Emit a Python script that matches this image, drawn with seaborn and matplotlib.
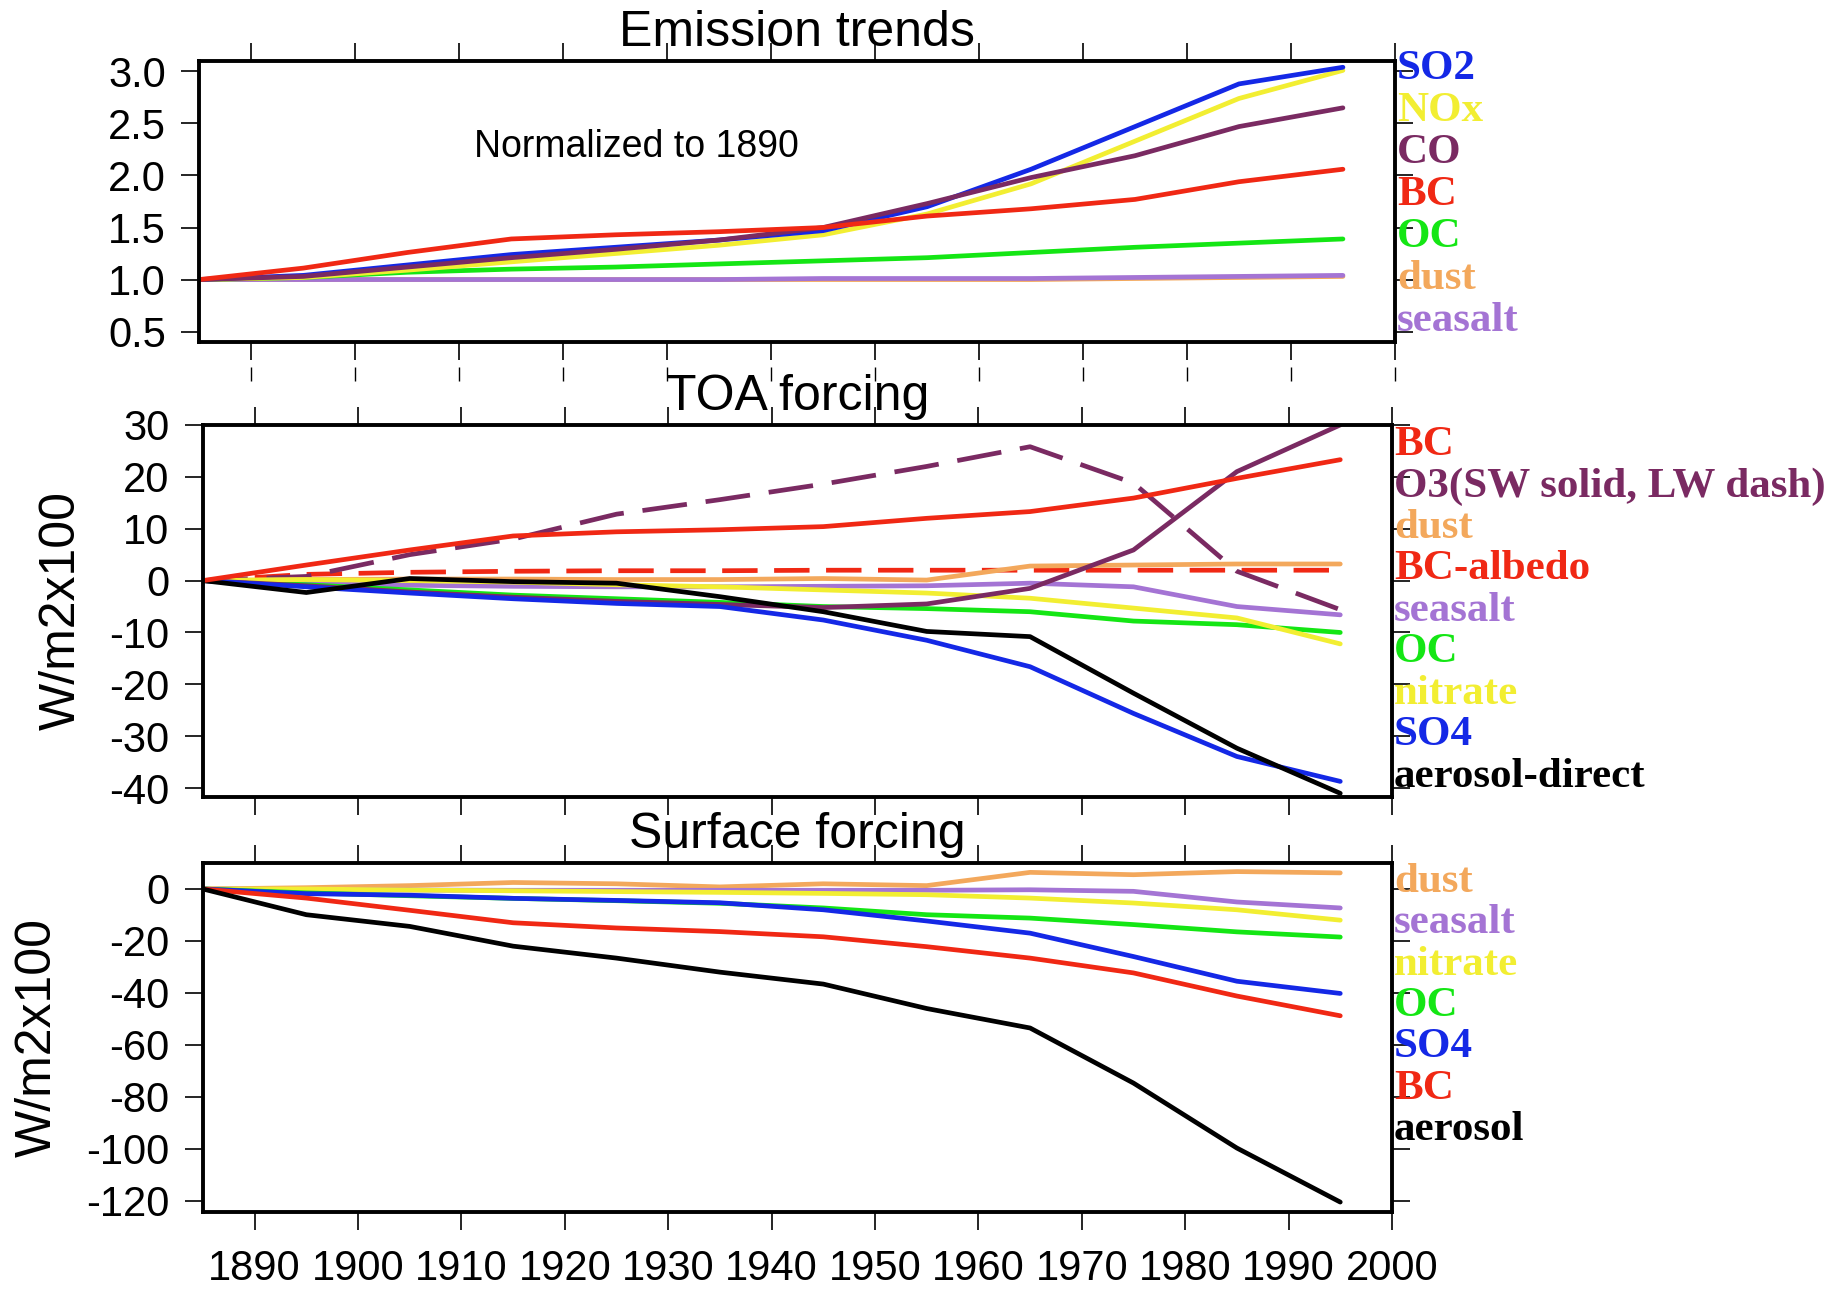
import numpy as np
import pandas as pd
import matplotlib
matplotlib.use("Agg")
import matplotlib.pyplot as plt
import seaborn as sns

# years of the model snapshots
years = [1885, 1895, 1905, 1915, 1925, 1935, 1945, 1955, 1965, 1975, 1985, 1995]

# Emission trends, normalized to 1890
emis_so2 = [1.0, 1.04, 1.14, 1.24, 1.31, 1.38, 1.47, 1.70, 2.06, 2.47, 2.88, 3.04]
emis_nox = [1.0, 1.02, 1.09, 1.17, 1.25, 1.33, 1.43, 1.63, 1.92, 2.33, 2.74, 3.01]
emis_co = [1.0, 1.03, 1.12, 1.21, 1.29, 1.38, 1.50, 1.73, 1.98, 2.19, 2.47, 2.65]
emis_bc = [1.0, 1.11, 1.26, 1.39, 1.43, 1.46, 1.50, 1.61, 1.68, 1.77, 1.94, 2.06]
emis_oc = [1.0, 1.02, 1.07, 1.10, 1.12, 1.15, 1.18, 1.21, 1.26, 1.31, 1.35, 1.39]
emis_dust = [1.0, 1.0, 1.0, 1.0, 1.0, 1.0, 1.0, 1.0, 1.0, 1.01, 1.02, 1.03]
emis_seasalt = [1.0, 1.0, 1.0, 1.0, 1.0, 1.0, 1.01, 1.01, 1.01, 1.02, 1.03, 1.04]

# TOA forcing (W/m2 x 100)
toa_bc = [0, 3.0, 5.9, 8.6, 9.4, 9.8, 10.4, 12.0, 13.3, 15.9, 19.7, 23.3]
toa_o3_sw = [0, -1.0, -2.2, -3.2, -4.0, -4.6, -5.2, -4.5, -1.5, 5.9, 21.0, 30.0]
toa_o3_lw = [0, 0.8, 5.0, 8.0, 12.8, 15.6, 18.6, 22.0, 25.8, 18.8, 1.8, -5.6]
toa_dust = [0, 0.2, 0.3, 0.3, 0.2, 0.2, 0.4, 0.1, 2.8, 3.0, 3.2, 3.2]
toa_bc_albedo = [0, 1.2, 1.6, 1.8, 1.9, 1.9, 2.0, 2.0, 2.0, 2.0, 2.0, 2.0]
toa_seasalt = [0, -0.6, -0.9, -1.1, -1.2, -1.2, -1.1, -1.0, -0.5, -1.2, -5.0, -6.6]
toa_oc = [0, -0.8, -1.8, -2.8, -3.5, -4.2, -5.0, -5.4, -6.0, -7.8, -8.5, -10.0]
toa_nitrate = [0, 0.2, 0.0, -0.3, -0.8, -1.2, -1.8, -2.4, -3.4, -5.3, -7.2, -12.2]
toa_so4 = [0, -1.2, -2.4, -3.5, -4.4, -5.0, -7.6, -11.5, -16.6, -25.6, -33.9, -38.7]
toa_aerosol = [0, -2.3, 0.4, -0.2, -0.5, -3.1, -6.0, -9.8, -10.8, -21.7, -32.3, -41.0]

# Surface forcing (W/m2 x 100)
sfc_dust = [0, 0.5, 1.3, 2.5, 2.0, 0.8, 2.0, 1.3, 6.4, 5.5, 6.7, 6.2]
sfc_seasalt = [0, -0.2, -0.4, -0.5, -0.5, -0.5, -0.5, -0.5, -0.3, -0.9, -5.0, -7.3]
sfc_nitrate = [0, 0.0, -0.4, -0.7, -1.0, -1.3, -1.7, -2.2, -3.5, -5.4, -8.0, -12.0]
sfc_oc = [0, -1.5, -2.6, -3.6, -4.5, -5.5, -7.3, -9.9, -11.2, -13.7, -16.5, -18.5]
sfc_so4 = [0, -1.8, -2.4, -3.6, -4.4, -5.3, -8.0, -12.3, -17.0, -26.0, -35.5, -40.2]
sfc_bc = [0, -3.5, -8.2, -13.0, -15.0, -16.4, -18.4, -22.2, -26.6, -32.3, -41.2, -48.8]
sfc_aerosol = [0, -9.9, -14.4, -22.0, -26.6, -32.0, -36.6, -46.0, -53.5, -74.7, -99.7, -120.5]

# colours (NCL-like)
c_blue = "#1428e6"
c_yellow = "#f2ee32"
c_purple = "#7a2a62"
c_red = "#f02814"
c_green = "#14e614"
c_orange = "#f3a85c"
c_lav = "#a474d4"
c_black = "#000000"

sns.set_theme(style="ticks")
plt.rcParams['font.family'] = ['Liberation Sans', 'DejaVu Sans']
plt.rcParams['axes.unicode_minus'] = False
plt.rcParams['text.color'] = 'black'
plt.rcParams['xtick.color'] = 'black'
plt.rcParams['ytick.color'] = 'black'
plt.rcParams['xtick.labelcolor'] = 'black'
plt.rcParams['ytick.labelcolor'] = 'black'

fig = plt.figure(figsize=(18.4, 12.9), dpi=100)

ax1 = fig.add_axes([0.1084, 0.7349, 0.6497, 0.2178])
ax2 = fig.add_axes([0.1103, 0.3822, 0.6462, 0.2884])
ax3 = fig.add_axes([0.1103, 0.0605, 0.6462, 0.2705])


def long_frame(series):
    rows = []
    for name, vals in series:
        for yr, v in zip(years, vals):
            rows.append({"year": yr, "value": v, "series": name})
    return pd.DataFrame(rows)


def draw(ax, series, colors, dashes):
    df = long_frame(series)
    names = [s[0] for s in series]
    sns.lineplot(data=df, x="year", y="value", hue="series", style="series",
                 hue_order=names, style_order=names,
                 palette=dict(zip(names, colors)),
                 dashes=dict(zip(names, dashes)),
                 lw=3.4, legend=False, ax=ax)


# panel 1
p1 = [("dust", emis_dust), ("seasalt", emis_seasalt), ("OC", emis_oc),
      ("NOx", emis_nox), ("SO2", emis_so2), ("CO", emis_co), ("BC", emis_bc)]
draw(ax1, p1, [c_orange, c_lav, c_green, c_yellow, c_blue, c_purple, c_red],
     [""] * 7)

# panel 2
p2 = [("BC-albedo", toa_bc_albedo), ("O3 LW", toa_o3_lw), ("dust", toa_dust),
      ("seasalt", toa_seasalt), ("OC", toa_oc), ("nitrate", toa_nitrate),
      ("O3 SW", toa_o3_sw), ("SO4", toa_so4), ("aerosol-direct", toa_aerosol),
      ("BC", toa_bc)]
draw(ax2, p2, [c_red, c_purple, c_orange, c_lav, c_green, c_yellow, c_purple,
               c_blue, c_black, c_red],
     [(7.5, 3.5), (9.5, 4.0), "", "", "", "", "", "", "", ""])

# panel 3
p3 = [("dust", sfc_dust), ("seasalt", sfc_seasalt), ("nitrate", sfc_nitrate),
      ("OC", sfc_oc), ("SO4", sfc_so4), ("BC", sfc_bc), ("aerosol", sfc_aerosol)]
draw(ax3, p3, [c_orange, c_lav, c_yellow, c_green, c_blue, c_red, c_black],
     [""] * 7)

tick_font = 30
xticks = list(range(1890, 2001, 10))
for ax in (ax1, ax2, ax3):
    ax.set_xlim(1885, 2000)
    ax.set_xticks(xticks)
    ax.set_xlabel("")
    ax.set_ylabel("")
    for sp in ax.spines.values():
        sp.set_visible(True)
        sp.set_linewidth(2.8)
        sp.set_color("black")
    ax.tick_params(axis="both", which="major", direction="out", length=13,
                   width=1.2, color="black", labelcolor="black", top=True,
                   right=True, labelsize=tick_font, pad=11)
    ax.tick_params(axis="x", labelbottom=False)

ax3.tick_params(axis="x", labelbottom=True, pad=14)

ax1.set_ylim(0.4, 3.1)
ax1.set_yticks([0.5, 1.0, 1.5, 2.0, 2.5, 3.0])
ax1.set_yticklabels(["0.5", "1.0", "1.5", "2.0", "2.5", "3.0"])
ax2.set_ylim(-41.7, 30)
ax2.set_yticks([-40, -30, -20, -10, 0, 10, 20, 30])
ax3.set_ylim(-124.3, 10)
ax3.set_yticks([-120, -100, -80, -60, -40, -20, 0])

# spare row of tick marks below the top panel (as in the original)
sec = ax1.secondary_xaxis(-0.089)
sec.set_xticks(xticks)
sec.spines["bottom"].set_visible(False)
sec.tick_params(direction="out", length=10, width=1.0, color="black",
                labelbottom=False)

# titles
title_font = 36
for ax, t in [(ax1, "Emission trends"), (ax2, "TOA forcing"), (ax3, "Surface forcing")]:
    ax.annotate(t, xy=(0.5, 1.0), xycoords="axes fraction", xytext=(0, 15),
                textcoords="offset pixels", ha="center", va="baseline",
                fontsize=title_font, color="black")

ax1.text(1927, 2.27, "Normalized to 1890", ha="center", va="center",
         fontsize=27, color="black")

ax2.text(-0.119, 0.5, "W/m2x100", transform=ax2.transAxes, rotation=90,
         ha="center", va="center", fontsize=36, color="black")
ax3.text(-0.139, 0.5, "W/m2x100", transform=ax3.transAxes, rotation=90,
         ha="center", va="center", fontsize=36, color="black")

# coloured labels on the right
label_font = dict(family=["Liberation Serif", "DejaVu Serif"], weight="bold",
                  fontsize=31)


def side_labels(ax, labels, colors, first, step):
    for i, (lab, col) in enumerate(zip(labels, colors)):
        ax.annotate(lab, xy=(1.0, 1.0), xycoords="axes fraction",
                    xytext=(2, -(first + i * step)), textcoords="offset pixels",
                    ha="left", va="center", color=col, **label_font)


side_labels(ax1, ["SO2", "NOx", "CO", "BC", "OC", "dust", "seasalt"],
            [c_blue, c_yellow, c_purple, c_red, c_green, c_orange, c_lav], 8, 42)
side_labels(ax2, ["BC", "O3(SW solid, LW dash)", "dust", "BC-albedo", "seasalt",
                  "OC", "nitrate", "SO4", "aerosol-direct"],
            [c_red, c_purple, c_orange, c_red, c_lav, c_green, c_yellow,
             c_blue, c_black], 20, 41.5)
side_labels(ax3, ["dust", "seasalt", "nitrate", "OC", "SO4", "BC", "aerosol"],
            [c_orange, c_lav, c_yellow, c_green, c_blue, c_red, c_black], 19, 41.3)

fig.savefig("out.png", dpi=100)
